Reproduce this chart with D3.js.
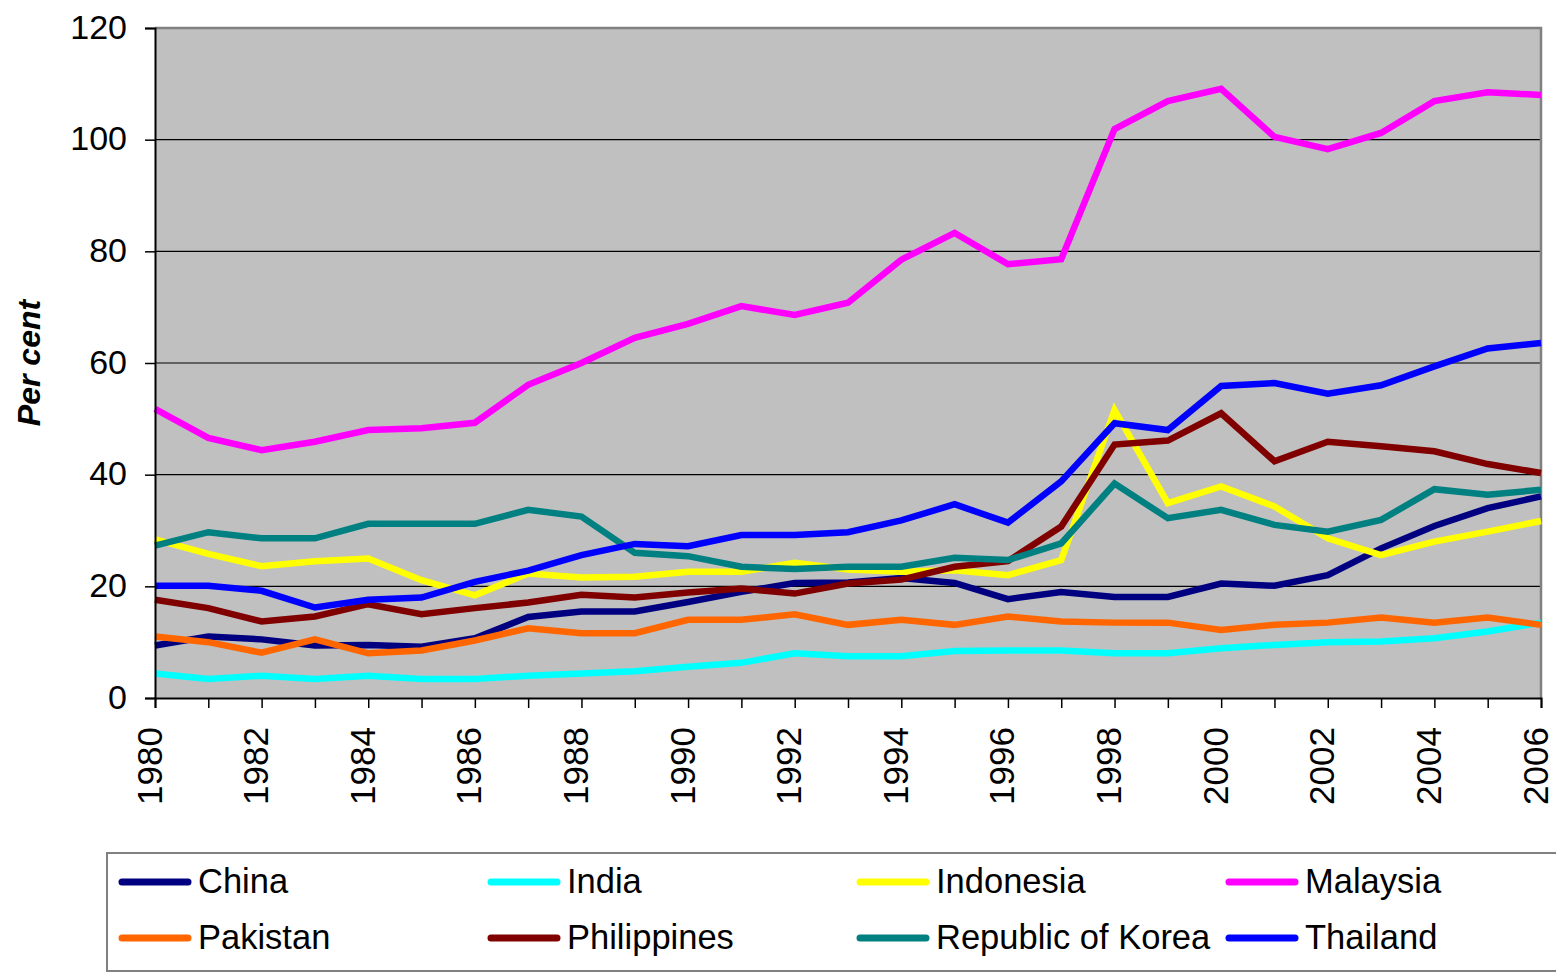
<!DOCTYPE html>
<html>
<head>
<meta charset="utf-8">
<script src="https://cdn.jsdelivr.net/npm/d3@7"></script>
<style>
  html, body { margin: 0; padding: 0; background: #fff; }
  svg { display: block; font-family: "Liberation Sans", Arial, sans-serif; }
</style>
</head>
<body>
<svg id="chart" width="1556" height="972"></svg>
<script>
const years = d3.range(1980, 2007);
const yTicks = [0, 20, 40, 60, 80, 100, 120];
const xLabelYears = d3.range(1980, 2007, 2);

const china      = [9.4, 11.0, 10.5, 9.4, 9.5, 9.2, 10.7, 14.5, 15.5, 15.5, 17.2, 19.0, 20.6, 20.7, 21.5, 20.6, 17.7, 19.0, 18.1, 18.1, 20.5, 20.1, 22.0, 26.8, 30.8, 34.0, 36.1];
const india      = [4.4, 3.4, 4.0, 3.4, 4.0, 3.4, 3.4, 4.0, 4.4, 4.8, 5.6, 6.3, 8.0, 7.5, 7.5, 8.4, 8.5, 8.5, 8.0, 8.0, 8.9, 9.5, 10.0, 10.1, 10.7, 11.9, 13.5];
const indonesia  = [28.4, 25.8, 23.6, 24.5, 25.0, 21.1, 18.4, 22.3, 21.6, 21.7, 22.6, 22.6, 24.2, 23.0, 22.6, 22.9, 22.0, 24.7, 51.6, 34.9, 37.9, 34.3, 28.6, 25.6, 28.0, 29.8, 31.7];
const malaysia   = [51.8, 46.6, 44.4, 45.9, 48.0, 48.3, 49.3, 56.1, 60.0, 64.5, 67.0, 70.2, 68.6, 70.8, 78.5, 83.3, 77.7, 78.6, 101.9, 106.9, 109.1, 100.5, 98.3, 101.2, 106.9, 108.5, 108.0];
const pakistan   = [11.0, 10.0, 8.1, 10.5, 8.0, 8.5, 10.3, 12.5, 11.6, 11.6, 14.0, 14.0, 15.0, 13.1, 14.0, 13.1, 14.6, 13.7, 13.5, 13.5, 12.2, 13.1, 13.5, 14.4, 13.5, 14.4, 13.1];
const philippines= [17.6, 16.1, 13.7, 14.6, 16.8, 15.0, 16.1, 17.1, 18.5, 18.0, 18.9, 19.6, 18.7, 20.5, 21.2, 23.5, 24.5, 30.7, 45.4, 46.1, 51.0, 42.4, 45.9, 45.1, 44.2, 41.9, 40.3];
const korea      = [27.3, 29.7, 28.6, 28.6, 31.2, 31.2, 31.2, 33.7, 32.5, 26.0, 25.4, 23.5, 23.1, 23.5, 23.5, 25.1, 24.7, 27.7, 38.4, 32.2, 33.7, 31.0, 29.8, 31.9, 37.4, 36.4, 37.3];
const thailand   = [20.1, 20.1, 19.2, 16.2, 17.6, 18.0, 20.8, 22.8, 25.6, 27.6, 27.2, 29.2, 29.2, 29.7, 31.8, 34.7, 31.4, 38.8, 49.2, 48.0, 55.9, 56.4, 54.5, 56.0, 59.4, 62.6, 63.6];

const seriesNames  = ["China", "India", "Indonesia", "Malaysia", "Pakistan", "Philippines", "Republic of Korea", "Thailand"];
const seriesValues = [china, india, indonesia, malaysia, pakistan, philippines, korea, thailand];
const seriesColors = ["#000080", "#00FFFF", "#FFFF00", "#FF00FF", "#FF6600", "#800000", "#008080", "#0000FF"];

const svg = d3.select("#chart");
const L = 155, R = 1541, T = 28, B = 698;

const x = d3.scaleLinear().domain([1980, 2006]).range([L, R]);
const y = d3.scaleLinear().domain([0, 120]).range([B, T]);

// plot background
svg.append("rect").attr("x", L).attr("y", T).attr("width", R - L).attr("height", B - T)
  .attr("fill", "#C0C0C0");

// gridlines
svg.append("g").selectAll("line").data(yTicks.filter(d => d > 0 && d < 120)).join("line")
  .attr("x1", L).attr("x2", R).attr("y1", d => y(d)).attr("y2", d => y(d))
  .attr("stroke", "#000").attr("stroke-width", 1.2);

// top & right border
svg.append("path").attr("d", `M${L},${T}H${R}V${B}`).attr("fill", "none")
  .attr("stroke", "#808080").attr("stroke-width", 2.5);

// series lines
const line = d3.line().x((d, i) => x(years[i])).y(d => y(d));
const gl = svg.append("g");
seriesValues.forEach((vals, k) => {
  gl.append("path").attr("d", line(vals)).attr("fill", "none")
    .attr("stroke", seriesColors[k]).attr("stroke-width", 6.5)
    .attr("stroke-linejoin", "miter").attr("stroke-miterlimit", 3);
});

// y axis
const yAxis = d3.axisLeft(y).tickValues(yTicks).tickSize(10).tickPadding(18).tickFormat(d3.format("d"));
const gy = svg.append("g").attr("transform", `translate(${L},0)`).call(yAxis);
gy.select(".domain").attr("stroke", "#000").attr("stroke-width", 2);
gy.selectAll(".tick line").attr("stroke", "#000").attr("stroke-width", 1.5);
gy.selectAll(".tick text").attr("font-size", 34).attr("fill", "#000")
  .attr("font-family", "Liberation Sans, Arial, sans-serif").attr("dy", "0.3em");

// x axis
const xAxis = d3.axisBottom(x).tickValues(years).tickSize(10).tickFormat("");
const gx = svg.append("g").attr("transform", `translate(0,${B})`).call(xAxis);
gx.select(".domain").attr("stroke", "#000").attr("stroke-width", 2);
gx.selectAll(".tick line").attr("stroke", "#000").attr("stroke-width", 1.5);

svg.append("g").selectAll("text").data(xLabelYears).join("text")
  .attr("transform", d => `translate(${x(d) - 5},${727}) rotate(-90)`)
  .attr("text-anchor", "end").attr("dy", "0.33em")
  .attr("font-size", 35).attr("fill", "#000").text(d => d);

// y title
svg.append("text").attr("transform", "translate(28,363) rotate(-90)")
  .attr("text-anchor", "middle").attr("dy", "0.36em")
  .attr("font-size", 32).attr("font-weight", "bold").attr("font-style", "italic")
  .text("Per cent");

// legend
svg.append("rect").attr("x", 107).attr("y", 853).attr("width", 1500).attr("height", 118)
  .attr("fill", "#fff").attr("stroke", "#808080").attr("stroke-width", 2);

const colX = [118, 487, 856, 1225];
const rowY = [882, 938];
const lg = svg.append("g");
seriesNames.forEach((name, k) => {
  const cx = colX[k % 4], cy = rowY[Math.floor(k / 4)];
  lg.append("line").attr("x1", cx + 4).attr("x2", cx + 70).attr("y1", cy).attr("y2", cy)
    .attr("stroke", seriesColors[k]).attr("stroke-width", 7).attr("stroke-linecap", "round");
  lg.append("text").attr("x", cx + 80).attr("y", cy + 11)
    .attr("font-size", 34.5).attr("fill", "#000").text(name);
});
</script>
</body>
</html>
